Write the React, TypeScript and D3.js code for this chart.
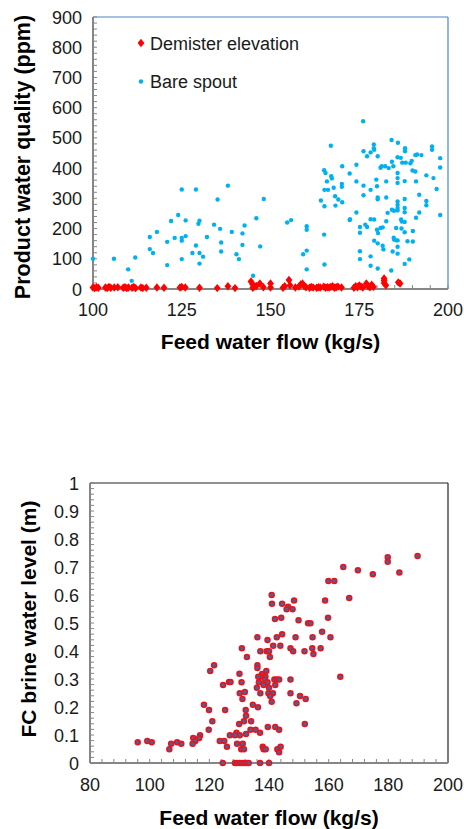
import React from "react";
import * as d3 from "d3";

// ---------- Top chart data ----------
const bareX = [100,105.9,109.9,110.9,111.9,116,116,116.9,118,120.9,120.9,122,123,124,125,125,125,125,126.1,126.1,128,129,129,129.7,130,130,130,131,132.1,134.1,135.1,135.8,136.1,136.1,138,139.1,140.4,141.1,142.1,142.1,142.7,145.1,146,147.1,148.1,154.7,155.8,159.2,160.2,160.2,160.2,160.2,164.2,165.1,165.1,165.2,165.5,165.9,165.2,166.2,165.2,167.1,167.3,167.8,168.2,168.3,169.1,170.1,170.1,170.2,170.2,172.3,172.3,172.4,174.2,174.2,174.2,175.2,175.2,175.2,175.2,176.2,176.2,176.2,176.7,177.2,177.2,178.2,178.2,178.2,178.2,178.2,179.2,179.2,179.2,179.8,180,180.2,180.2,180.2,180.2,180.2,180,180.3,181,181,181.3,181.6,181.6,181.8,182.3,182.6,182.6,182.6,183,183.3,184,184.2,184.2,184.4,184.6,184.7,184.8,184.8,185.4,185.4,185.8,185.8,185.8,185.8,185.8,185.8,185.8,185.8,185.8,185.8,185.8,185.9,186.7,187.1,186.8,187,186.9,187.8,187.8,187.8,187.8,187.8,187.8,187.8,187.9,188.1,188.6,189.1,189.4,189.8,190,190.1,190.1,190.8,191,191,190.8,191.3,191.9,191.9,192.5,193.9,193.9,193.9,195.5,195.9,196.8,197.8,197.8,197.8,176.1,167,179.1,179.1,184.1,185.9,187.9,195.5];
const bareY = [100,100,65,27,104,172,132,119,189,156,79,225,169,245,329,169,160,99,175,227,119,329,144,216,226,119,84,107,172,213,296,199,154,124,342,189,115,99,184,146,210,44,234,141,298,220,228,115,208,196,127,65,293,393,180,81,384,356,328,328,274,373,366,335,307,276,296,348,338,287,406,382,228,231,411,356,253,205,186,125,99,342,310,456,213,205,439,328,231,108,77,452,230,160,461,362,340,303,297,439,151,68,196,185,401,202,406,204,143,131,406,303,356,224,252,400,61,421,262,124,406,170,164,259,161,202,436,384,367,351,290,279,268,260,161,140,117,20,434,418,230,223,200,357,298,268,254,222,188,83,456,418,158,98,416,424,392,157,192,389,356,236,443,445,312,253,443,291,277,376,461,367,331,433,402,245,555,474,478,466,493,484,466,472];

const demX = [100,100.5,101,101.5,103.5,104,104.5,105,106,107,108.5,109,109.5,110,111,111.5,112,113.5,114,115,118,120,124.5,125,126,130,135,138,140,144.5,145,145,145.5,146,147,148,150,150,153.5,154,155.2,155.5,157,158,158.5,159,159.5,160,161,161.5,162,163,163.5,164,165,165.5,166,166.5,167,167.5,168,168.5,169,170,173.5,174,174.5,175,175.5,176,177,177.5,178,178.5,179,182,182,182,182.5,186,186.5];
const demY = [5,3,6,4,5,3,7,4,5,6,4,6,3,5,4,7,3,5,3,4,5,4,5,7,5,4,3,9,3,25,15,4,8,10,18,6,18,5,4,9,30,12,5,8,15,18,10,6,4,7,5,4,6,5,8,4,6,5,7,9,4,6,8,5,4,9,6,12,8,5,18,9,6,14,7,35,28,20,12,22,18];

const yTicksTop = [0,100,200,300,400,500,600,700,800,900];
const xTicksTop = [100,125,150,175,200];

// ---------- Bottom chart data ----------
const fcX = [189.8,179.8,179.8,183.7,174.8,169.8,164.9,166.9,159.9,161.9,158.8,159.8,140.9,141,144.4,146.4,145.9,147.9,148.4,142,144.1,149.9,153.1,153.9,157.8,160.6,154.6,148.9,144.4,142.6,136.1,139.5,141.4,143.8,147.2,148.1,151.9,154.5,157.3,154.9,139.2,140,137.1,140.3,132.6,130.9,121.6,120.3,136.1,136.1,139.1,137.7,137.1,136.4,130.1,138.8,141.8,142.6,143.4,147.2,163.9,138.6,136.6,139.5,138.2,142.1,135.9,140,126.6,127.1,124.6,130.8,131.9,130.2,137.1,139.8,141.3,140.4,131.1,140.9,147.2,150.4,152.3,149.2,134.6,136.3,118.2,119.9,125.3,132.2,132.3,131.6,134,121,130,119.8,133.8,135.5,139.6,142.1,143.4,152,137,132.3,129.1,130.2,128.6,126.9,116.9,116.6,114.6,115.3,114.4,123.5,125,125.9,129.3,131.2,130.7,131.6,137.9,138.2,138.9,143.9,142.8,143.4,96,99.2,100.7,106.6,107.2,109.2,110.6,124.5,128.6,129.3,130.2,131,131.8,132.6,133.2,137,140];
const fcY = [0.739,0.735,0.719,0.68,0.674,0.688,0.7,0.589,0.65,0.65,0.58,0.519,0.6,0.569,0.569,0.558,0.549,0.549,0.58,0.514,0.519,0.51,0.499,0.499,0.469,0.449,0.449,0.449,0.46,0.449,0.449,0.439,0.419,0.419,0.41,0.399,0.399,0.41,0.41,0.389,0.399,0.399,0.399,0.379,0.379,0.41,0.349,0.329,0.349,0.339,0.329,0.318,0.308,0.308,0.319,0.308,0.298,0.298,0.298,0.298,0.308,0.298,0.288,0.288,0.279,0.279,0.269,0.269,0.289,0.289,0.279,0.288,0.254,0.249,0.249,0.249,0.249,0.239,0.229,0.219,0.249,0.239,0.229,0.213,0.208,0.199,0.208,0.189,0.189,0.189,0.169,0.149,0.149,0.149,0.139,0.119,0.119,0.119,0.129,0.129,0.119,0.139,0.108,0.104,0.108,0.099,0.099,0.099,0.099,0.089,0.089,0.079,0.069,0.079,0.079,0.058,0.069,0.069,0.049,0.049,0.058,0.049,0.049,0.058,0.049,0.038,0.074,0.079,0.074,0.049,0.069,0.074,0.069,0,0,0,0,0,0,0,0,0,0];

const yTicksBot = [0,0.1,0.2,0.3,0.4,0.5,0.6,0.7,0.8,0.9,1];
const xTicksBot = [80,100,120,140,160,180,200];

const FONT = "'Liberation Sans', Arial, sans-serif";
const AXIS = "#868686";

export default function App() {
  // top scales
  const xT = d3.scaleLinear().domain([100, 200]).range([93, 448]);
  const yT = d3.scaleLinear().domain([0, 900]).range([289, 17]);
  // bottom scales
  const xB = d3.scaleLinear().domain([80, 200]).range([90, 448]);
  const yB = d3.scaleLinear().domain([0, 1]).range([763, 483]);

  const diamond = "M0,-4.2L3.4,0L0,4.2L-3.4,0Z";

  const yMinorTop = d3.range(0, 901, 20);
  const xMinorTop = d3.range(100, 201, 5);
  const yMinorBot = d3.range(0, 1.0001, 0.02);
  const xMinorBot = d3.range(80, 201, 4);

  return (
    <svg width={464} height={829} style={{ position: "absolute", left: 0, top: 0, background: "#fff" }} fontFamily={FONT}>
      {/* ===== TOP CHART ===== */}
      <line x1={xT(100)} x2={xT(200)} y1={yT(900)} y2={yT(900)} stroke="#4a86c6" strokeWidth={1.2} />
      <line x1={xT(200)} x2={xT(200)} y1={yT(900)} y2={yT(0)} stroke="#4a86c6" strokeWidth={1.2} />
      {yMinorTop.map((v) => (
        <line key={"ymt" + v} x1={xT(100)} x2={xT(100) + 4} y1={yT(v)} y2={yT(v)} stroke={AXIS} strokeWidth={1} />
      ))}
      {xMinorTop.map((v) => (
        <line key={"xmt" + v} x1={xT(v)} x2={xT(v)} y1={yT(0)} y2={yT(0) - 4} stroke={AXIS} strokeWidth={1} />
      ))}
      <line x1={xT(100)} x2={xT(100)} y1={yT(900)} y2={yT(0)} stroke={AXIS} strokeWidth={2} />
      <line x1={xT(100)} x2={xT(200)} y1={yT(0)} y2={yT(0)} stroke={AXIS} strokeWidth={2} />
      {yTicksTop.map((v) => (
        <text key={"ylt" + v} x={82} y={yT(v) + 6.5} textAnchor="end" fontSize={18} fill="#1a1a1a">{v}</text>
      ))}
      {xTicksTop.map((v) => (
        <text key={"xlt" + v} x={xT(v)} y={yT(0) + 27} textAnchor="middle" fontSize={18} fill="#1a1a1a">{v}</text>
      ))}
      <text x={xT(150)} y={348.5} textAnchor="middle" fontSize={21} fontWeight="bold" fill="#000">Feed water flow (kg/s)</text>
      <text transform={`translate(29.5,157) rotate(-90)`} textAnchor="middle" fontSize={21.5} fontWeight="bold" fill="#000">Product water quality (ppm)</text>
      {bareX.map((x, i) => (
        <circle key={"b" + i} cx={xT(x)} cy={yT(bareY[i])} r={2.2} fill="#00b0f0" />
      ))}
      {demX.map((x, i) => (
        <path key={"d" + i} d={diamond} transform={`translate(${xT(x)},${yT(demY[i])})`} fill="#ff0000" />
      ))}
      {/* legend */}
      <path d={diamond} transform="translate(141,43)" fill="#ff0000" />
      <text x={150} y={49.5} fontSize={18} fill="#1a1a1a">Demister elevation</text>
      <circle cx={141} cy={81.5} r={2.2} fill="#00b0f0" />
      <text x={150} y={88} fontSize={18} fill="#1a1a1a">Bare spout</text>

      {/* ===== BOTTOM CHART ===== */}
      <line x1={xB(80)} x2={xB(200)} y1={yB(1)} y2={yB(1)} stroke="#222" strokeWidth={1.2} />
      <line x1={xB(200)} x2={xB(200)} y1={yB(1)} y2={yB(0)} stroke="#222" strokeWidth={1.2} />
      {yMinorBot.map((v, i) => (
        <line key={"ymb" + i} x1={xB(80)} x2={xB(80) + 4} y1={yB(v)} y2={yB(v)} stroke={AXIS} strokeWidth={1} />
      ))}
      {xMinorBot.map((v) => (
        <line key={"xmb" + v} x1={xB(v)} x2={xB(v)} y1={yB(0)} y2={yB(0) - 4} stroke={AXIS} strokeWidth={1} />
      ))}
      <line x1={xB(80)} x2={xB(80)} y1={yB(1)} y2={yB(0)} stroke={AXIS} strokeWidth={2} />
      <line x1={xB(80)} x2={xB(200)} y1={yB(0)} y2={yB(0)} stroke={AXIS} strokeWidth={2} />
      {yTicksBot.map((v) => (
        <text key={"ylb" + v} x={79} y={yB(v) + 6.5} textAnchor="end" fontSize={18} fill="#1a1a1a">{String(v)}</text>
      ))}
      {xTicksBot.map((v) => (
        <text key={"xlb" + v} x={xB(v)} y={yB(0) + 27.5} textAnchor="middle" fontSize={18} fill="#1a1a1a">{v}</text>
      ))}
      <text x={(xB(80) + xB(200)) / 2} y={825} textAnchor="middle" fontSize={21} fontWeight="bold" fill="#000">Feed water flow (kg/s)</text>
      <text transform={`translate(36,619) rotate(-90)`} textAnchor="middle" fontSize={21} fontWeight="bold" fill="#000">FC brine water level (m)</text>
      {fcX.map((x, i) => (
        <circle key={"f" + i} cx={xB(x)} cy={yB(fcY[i])} r={2.4} fill="#2e6db4" stroke="#e8141c" strokeWidth={1.7} />
      ))}
    </svg>
  );
}
